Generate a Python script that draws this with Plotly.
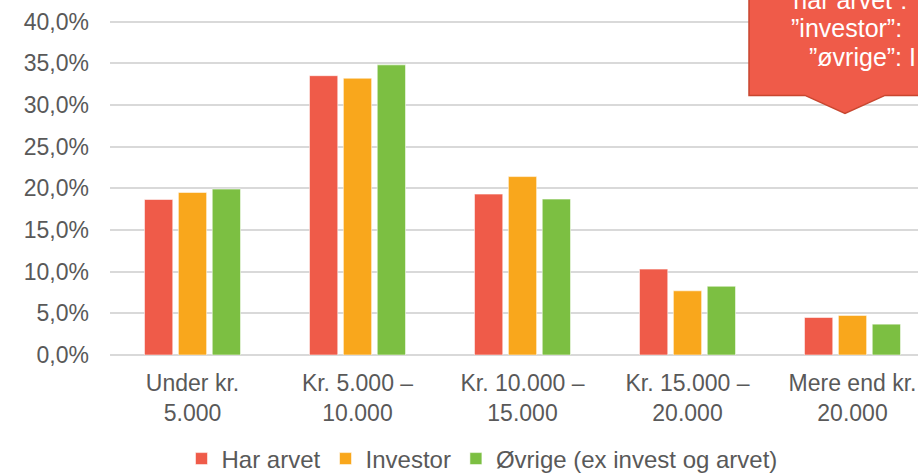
import plotly.graph_objects as go

categories = ["Under kr.<br>5.000", "Kr. 5.000 –<br>10.000", "Kr. 10.000 –<br>15.000",
              "Kr. 15.000 –<br>20.000", "Mere end kr.<br>20.000"]
har_arvet = [18.65, 33.5, 19.3, 10.3, 4.5]
investor = [19.5, 33.2, 21.4, 7.7, 4.75]
ovrige = [19.9, 34.8, 18.7, 8.25, 3.7]
series_names = ["Har arvet", "Investor", "Øvrige (ex invest og arvet)"]
colors = ["#EF5B49", "#F9A71C", "#7CBF42"]
callout_lines = ["”har arvet”:", "”investor”:", "”øvrige”: I"]

W, H = 918, 475
L, R, T, B = 110, 0, 18.5, 120
x_range = [-0.5, 4.5 - (935 - 918) / 165]
y_range = [0, 40.3]
FS = 23

fig = go.Figure()
for name, vals, c in zip(series_names, [har_arvet, investor, ovrige], colors):
    fig.add_trace(go.Bar(x=categories, y=vals, name=name, marker_color=c,
                         marker_line=dict(color="rgba(255,255,255,0.55)", width=1)))

pw, ph = W - L - R, H - T - B
def px(x):
    return (x - L) / pw
def py(y):
    return (H - B - y) / ph

path = (f"M {px(749)},{py(-20)} L {px(749)},{py(95)} L {px(805)},{py(95)} "
        f"L {px(845)},{py(113)} L {px(885)},{py(95)} L {px(940)},{py(95)} "
        f"L {px(940)},{py(-20)} Z")
fig.add_shape(type="path", path=path, xref="paper", yref="paper",
              fillcolor="#EF5B49", line=dict(color="#C8462F", width=1.5), layer="above")

line_pos = [(783, -1), (789, 28), (807, 57)]
for txt, (lx, ly) in zip(callout_lines, line_pos):
    fig.add_annotation(text=txt, x=px(lx), y=py(ly), xref="paper", yref="paper",
                       xanchor="left", yanchor="middle", showarrow=False,
                       font=dict(color="white", size=25, family="Liberation Sans, Arial"))

fig.update_layout(
    width=W, height=H, margin=dict(l=L, r=R, t=T, b=B, pad=0, autoexpand=False),
    paper_bgcolor="white", plot_bgcolor="white",
    barmode="group", bargap=0.384, bargroupgap=0.165,
    font=dict(family="Liberation Sans, Arial", size=FS, color="#595959"),
    showlegend=True,
    legend=dict(orientation="h", x=482 / W, xanchor="center", xref="container",
                y=1 - 459 / H, yanchor="middle", yref="container",
                font=dict(size=24, color="#595959"), itemwidth=30, traceorder="normal"),
)
fig.update_xaxes(range=x_range, showgrid=False, showline=False, zeroline=False,
                 ticks="", ticklabelstandoff=12, tickfont=dict(size=FS, color="#595959"))
fig.update_yaxes(range=y_range, tickvals=[0, 5, 10, 15, 20, 25, 30, 35, 40],
                 ticktext=["0,0%", "5,0%", "10,0%", "15,0%", "20,0%", "25,0%", "30,0%", "35,0%", "40,0%"],
                 showgrid=True, gridcolor="#D9D9D9", gridwidth=1.5, zeroline=True,
                 zerolinecolor="#D9D9D9", zerolinewidth=1.5, showline=False,
                 ticks="", ticklabelstandoff=20, tickfont=dict(size=FS, color="#595959"))

fig.write_html("out.html", config={"displayModeBar": False},
               post_script="document.body.style.margin='0';")
